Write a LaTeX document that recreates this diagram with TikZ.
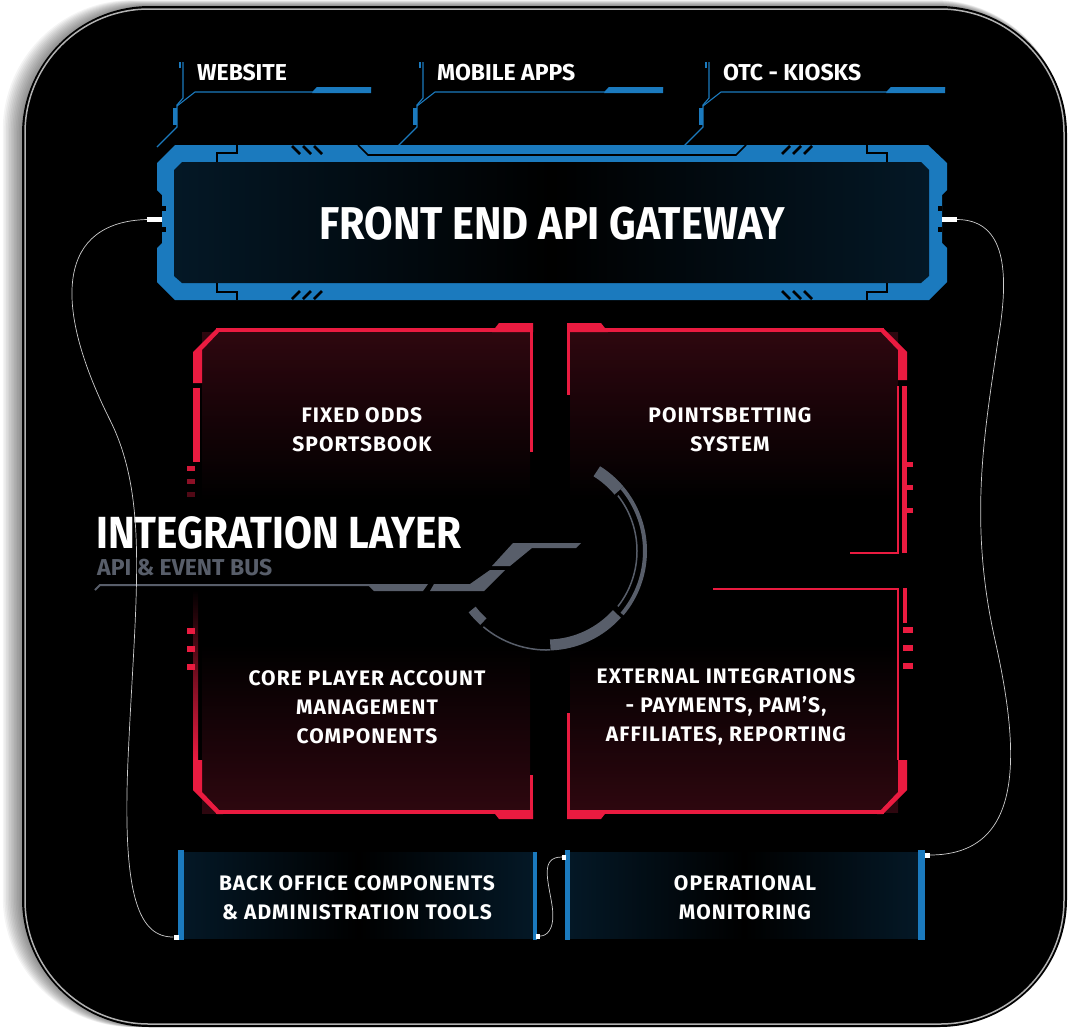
\documentclass[tikz,border=0pt]{standalone}
\usepackage{fontspec}
\setmainfont{Fira Sans}
\newfontfamily\titlefont{Fira Sans}[FakeStretch=0.9]
\newfontfamily\boxfont{Fira Sans}[LetterSpace=5, Ligatures=TeX]
\usetikzlibrary{arrows.meta}
\definecolor{gwblue}{RGB}{27,122,190}
\definecolor{deepblue}{RGB}{4,24,38}
\definecolor{panelred}{RGB}{234,27,64}
\definecolor{deepred}{RGB}{46,7,15}
\definecolor{busgray}{RGB}{88,94,106}
\definecolor{wire}{RGB}{205,205,205}
\tikzset{
  boxtext/.style={text=white, font=\boxfont\fontsize{21}{29}\selectfont\bfseries, align=center},
  toptext/.style={text=white, font=\fontsize{23}{28}\selectfont\bfseries, anchor=base west, inner sep=0pt},
  cut/.style={black, line width=1.6},
  trace/.style={gwblue, line width=1.1},
  redline/.style={panelred, line width=3.5},
  cable/.style={wire, line width=0.7},
  plug/.style={fill=white, inner sep=0pt, minimum width=#1, minimum height=5pt},
  plug/.default=15pt,
}

\begin{document}
\begin{tikzpicture}[x=1pt,y=-1pt]
\useasboundingbox (0,0) rectangle (1076,1029);
\fill[white] (0,0) rectangle (1076,1029);
% soft shadow to the left and top
\foreach \k in {1,...,12}
  \fill[black, opacity=0.045, rounded corners=130pt] ({22-1.6*\k},{6-0.5*\k}) rectangle ({1067-0.2*\k},1027);
\fill[black, rounded corners=128pt] (22,6) rectangle (1067,1027);
\draw[gray!60, line width=1.5, rounded corners=124pt] (25,9) rectangle (1064,1024);

% channels on top
\foreach \x/\e/\name/\txt in {180/371/web/WEBSITE, 420/663/apps/MOBILE APPS, 706/945/otc/OTC - KIOSKS} {
  \draw[gwblue, line width=2.2] (\x,62) -- (\x,68);
  \draw[trace] (\x+3,62) -- (\x+3,98) -- (\x-3,105) -- (\x-3,127) -- (\x-23,147);
  \draw[gwblue, line width=4] (\x-5,108) -- (\x-5,125);
  \draw[trace] (\x-3,106) -- (\x+15,92) -- (\e-58,92) -- (\e-54,88) -- (\e,88);
  \fill[gwblue] (\e-54,87) -- (\e,87) -- (\e,93) -- (\e-59,93) -- cycle;
  \node[toptext] (\name) at (\x+17,80) {\txt};
}

% gateway frame
\fill[gwblue] (175,145) -- (928,145) -- (947,163) -- (947,190) -- (942,195) -- (942,243) -- (947,248) -- (947,282) -- (929,300) -- (175,300) -- (157,282) -- (157,248) -- (162,243) -- (162,195) -- (157,190) -- (157,163) -- cycle;
\shade[left color=deepblue, right color=deepblue, middle color=black] (182,162) -- (921,162) -- (929,170) -- (929,276) -- (921,283) -- (182,283) -- (174,276) -- (174,170) -- cycle;
\draw[cut] (217,162) -- (217,153) -- (237,153) -- (237,145);
\draw[cut] (887,162) -- (887,153) -- (867,153) -- (867,145);
\draw[cut] (217,283) -- (217,292) -- (237,292) -- (237,300);
\draw[cut] (887,283) -- (887,292) -- (867,292) -- (867,300);
\draw[cut] (358,145) -- (368,155) -- (736,155) -- (746,145);
\foreach \s in {0,11,22} {
  \draw[black, line width=2.6] (292+\s,146) -- (300+\s,154);
  \draw[black, line width=2.6] (812-\s,146) -- (804-\s,154);
  \draw[black, line width=2.6] (292+\s,299) -- (300+\s,291);
  \draw[black, line width=2.6] (812-\s,299) -- (804-\s,291);
}
\fill[black] (162,206) rectangle (166,211);
\fill[black] (162,227) rectangle (166,232);
\fill[black] (938,206) rectangle (942,211);
\fill[black] (938,227) rectangle (942,232);
\node[plug] (plugL) at (154.5,219.5) {};
\node[plug] (plugR) at (949.5,219.5) {};
\node[text=white, font=\titlefont\fontsize{46}{50}\selectfont\bfseries] (gateway) at (552,224) {FRONT END API GATEWAY};

% fixed odds panel
\shade[top color=deepred, bottom color=black] (202,332) rectangle (530,500);
\draw[redline] (216,330) -- (495,330);
\fill[panelred] (492,332) -- (499,323) -- (533,323) -- (533,332) -- cycle;
\draw[panelred, line width=3] (531.5,323) -- (531.5,452);
\fill[panelred] (193,352) -- (217,328) -- (223,328) -- (202,350) -- (202,383) -- (193,383) -- cycle;
\fill[panelred] (193,388) rectangle (200,462);
\foreach \t/\o in {466/0.9,479/0.6,492/0.35}
  \fill[panelred, opacity=\o] (187,\t) rectangle (195,\t+5);
\node[boxtext] (fixed) at (362,430) {FIXED ODDS\\SPORTSBOOK};

% pointsbetting panel
\shade[top color=deepred, bottom color=black] (570,332) rectangle (898,500);
\draw[redline] (605,330) -- (884,330);
\fill[panelred] (608,332) -- (601,323) -- (567,323) -- (567,332) -- cycle;
\draw[panelred, line width=3] (568.5,323) -- (568.5,395);
\fill[panelred] (907,352) -- (883,328) -- (877,328) -- (898,350) -- (898,380) -- (907,380) -- cycle;
\fill[panelred] (902,386) rectangle (907,553);
\draw[panelred, line width=2] (898,386) -- (898,553) -- (850,553);
\foreach \t in {462,485,508}
  \fill[panelred] (907,\t) rectangle (913,\t+5);
\node[boxtext] (points) at (730,430) {POINTSBETTING\\SYSTEM};

% player account panel
\shade[top color=black, bottom color=deepred] (202,645) rectangle (530,813);
\draw[redline] (216,812) -- (495,812);
\fill[panelred] (492,810) -- (499,819) -- (533,819) -- (533,810) -- cycle;
\draw[panelred, line width=3] (531.5,775) -- (531.5,819);
\fill[panelred] (193,790) -- (217,814) -- (223,814) -- (202,792) -- (202,760) -- (193,760) -- cycle;
\shade[top color=black, bottom color=panelred] (193,590) rectangle (198,760);
\foreach \t in {628,646,664}
  \fill[panelred] (187,\t) rectangle (195,\t+6);
\node[boxtext] (core) at (367,707) {CORE PLAYER ACCOUNT\\MANAGEMENT\\COMPONENTS};

% external integrations panel
\shade[top color=black, bottom color=deepred] (570,645) rectangle (898,812);
\draw[panelred, line width=2.5] (713,589) -- (898,589) -- (898,760);
\fill[panelred] (903,588) rectangle (907,623);
\foreach \t in {627,645,663}
  \fill[panelred] (903,\t) rectangle (913,\t+6);
\fill[panelred] (907,760) -- (907,790) -- (883,814) -- (877,814) -- (898,792) -- (898,760) -- cycle;
\draw[redline] (605,812) -- (884,812);
\fill[panelred] (608,810) -- (601,819) -- (567,819) -- (567,810) -- cycle;
\draw[panelred, line width=3] (568.5,713) -- (568.5,819);
\node[boxtext] (external) at (726,707) {EXTERNAL INTEGRATIONS\\- PAYMENTS, PAM'S,\\AFFILIATES, REPORTING};

% integration layer, bus trace and hub arc
\coordinate (hub) at (547,551);
\draw[busgray, line width=12] (hub) ++(-58:94) arc[start angle=-58, end angle=-40, radius=94];
\draw[busgray, line width=4] (hub) ++(-40:98) arc[start angle=-40, end angle=40, radius=98];
\draw[busgray, line width=1.5] (hub) ++(-38:90) arc[start angle=-38, end angle=38, radius=90];
\draw[busgray, line width=11] (hub) ++(42:94) arc[start angle=42, end angle=88, radius=94];
\draw[busgray, line width=1.5] (hub) ++(88:99) arc[start angle=88, end angle=130, radius=99];
\draw[busgray, line width=9] (hub) ++(132:95) arc[start angle=132, end angle=142, radius=95];
\draw[busgray, line width=2] (95,590) -- (100,585) -- (370,585);
\fill[busgray] (367,584) -- (428,584) -- (423,591) -- (374,591) -- cycle;
\fill[busgray] (434,584) -- (470,584) -- (490,570) -- (505,570) -- (484,591) -- (430,591) -- cycle;
\fill[busgray] (513,543) -- (581,543) -- (576,548) -- (532,548) -- (510,566) -- (492,566) -- cycle;
\node[text=white, font=\titlefont\fontsize{45}{50}\selectfont\bfseries, anchor=base west, inner sep=0pt, text depth=0pt] (layer) at (96,548) {INTEGRATION LAYER};
\node[text=busgray, font=\fontsize{23}{28}\selectfont\bfseries, anchor=base west, inner sep=0pt, text height=15pt] (bus) at (97,575) {API \& EVENT BUS};

% back office box
\shade[left color=deepblue, right color=deepblue, middle color=black] (184,852) rectangle (533,938);
\fill[gwblue] (178,850) rectangle (184,940);
\fill[gwblue] (533,852) rectangle (537,940);
\node[boxtext] (backoffice) at (357,898) {BACK OFFICE COMPONENTS\\\& ADMINISTRATION TOOLS};

% monitoring box
\shade[left color=deepblue, right color=deepblue, middle color=black] (570,852) rectangle (918,938);
\fill[gwblue] (565,850) rectangle (570,940);
\fill[gwblue] (918,850) rectangle (925,940);
\node[boxtext] (monitor) at (745,898) {OPERATIONAL\\MONITORING};

% plugs and cables
\node[plug=5pt] (boL) at (176,937) {};
\node[plug=4pt] (boR) at (538,936) {};
\node[plug=4pt] (opL) at (564,857) {};
\node[plug=5pt] (opR) at (927,855) {};
\draw[cable] (plugL.west) .. controls (60,222) and (50,300) .. (110,420) .. controls (150,500) and (135,600) .. (128,760) .. controls (122,900) and (140,937) .. (boL.west);
\draw[cable] (plugR.east) .. controls (1000,220) and (1012,260) .. (998,340) .. controls (985,430) and (968,520) .. (995,640) .. controls (1022,760) and (1022,855) .. (opR.east);
\draw[cable] (opL.west) .. controls (540,857) and (548,880) .. (552,905) .. controls (556,932) and (545,936) .. (boR.east);
\end{tikzpicture}
\end{document}
